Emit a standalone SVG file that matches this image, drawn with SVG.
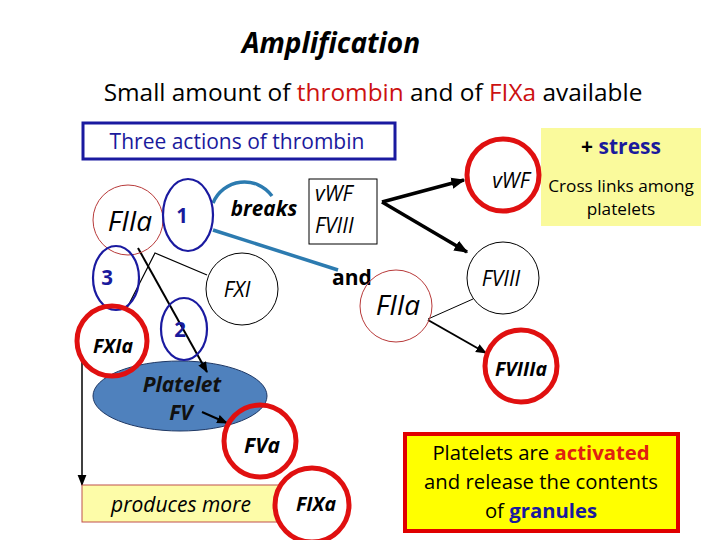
<svg xmlns="http://www.w3.org/2000/svg" width="720" height="540" viewBox="0 0 720 540">
<defs>
<marker id="ahb" viewBox="0 0 10 10" refX="9" refY="5" markerWidth="14" markerHeight="14" orient="auto" markerUnits="userSpaceOnUse">
<path d="M0,1 L10,5 L0,9 z" fill="#000"/>
</marker>
<marker id="ahm" viewBox="0 0 10 10" refX="9" refY="5" markerWidth="11" markerHeight="11" orient="auto" markerUnits="userSpaceOnUse">
<path d="M0,1 L10,5 L0,9 z" fill="#000"/>
</marker>
<style>
text{font-family:"Open Sans","Noto Sans","Liberation Sans",sans-serif;fill:#000}
.it{font-style:italic}
.b{font-weight:bold}
.blue{fill:#1a1a9c}
.red{fill:#cc1111}
.thinred{fill:none;stroke:#b83a3a;stroke-width:1}
.thickred{fill:#fff;stroke:#e01010;stroke-width:5}
.thin{fill:#fff;stroke:#000;stroke-width:1}
.ell{fill:none;stroke:#1a1aa0;stroke-width:2.2}
.teal{fill:none;stroke:#2c7bb0;stroke-width:3.5}
.c{text-anchor:middle}
</style>
</defs>
<rect width="720" height="540" fill="#fff"/>

<g id="title">
<text x="331" y="53" class="b it c" font-size="28">Amplification</text>
<text x="373" y="101" class="c" font-size="24.4">Small amount of <tspan class="red">thrombin</tspan> and of <tspan class="red">FIXa</tspan> available</text>
</g>

<g id="three-actions">
<rect x="83" y="123" width="312" height="36" fill="#fff" stroke="#1a1aa0" stroke-width="3"/>
<text x="237" y="149" class="c blue" font-size="21">Three actions of thrombin</text>
</g>

<g id="platelet">
<ellipse cx="180" cy="396" rx="87" ry="35" fill="#4f81bd" stroke="#1f3864" stroke-width="1"/>
<text x="182" y="392" class="b it c" font-size="21" style="fill:#111">Platelet</text>
<text x="181" y="420" class="b it c" font-size="21" style="fill:#111">FV</text>
</g>

<g id="connectors">
<path class="teal" d="M213,203 A34,34 0 0 1 272,196"/>
<line class="teal" x1="213" y1="230" x2="338" y2="270"/>
<polyline points="207,275 155,253 127,308" fill="none" stroke="#000" stroke-width="1.2"/>
<line x1="138" y1="248" x2="207" y2="372" stroke="#000" stroke-width="2" marker-end="url(#ahm)"/>
<line x1="82" y1="357" x2="82" y2="485" stroke="#000" stroke-width="1.5" marker-end="url(#ahm)"/>
<line x1="202" y1="412" x2="227" y2="423" stroke="#000" stroke-width="2" marker-end="url(#ahm)"/>
<line x1="382" y1="202" x2="464" y2="180" stroke="#000" stroke-width="3.5" marker-end="url(#ahb)"/>
<line x1="382" y1="202" x2="467" y2="252" stroke="#000" stroke-width="3.5" marker-end="url(#ahb)"/>
<line x1="428" y1="319" x2="473" y2="299" stroke="#000" stroke-width="1"/>
<line x1="428" y1="320" x2="486" y2="353" stroke="#000" stroke-width="2" marker-end="url(#ahm)"/>
</g>

<g id="fiia-left">
<circle cx="128" cy="220" r="35" class="thinred"/>
<text x="130" y="231" class="it c" font-size="28">FIIa</text>
</g>

<g id="action1">
<ellipse cx="188" cy="215" rx="25" ry="36" class="ell"/>
<text x="182" y="223" class="b blue c" font-size="20.5">1</text>
</g>

<g id="breaks">
<text x="264" y="216" class="b it c" font-size="20.7">breaks</text>
</g>

<g id="vwf-fviii-box">
<rect x="309" y="179" width="68" height="65" fill="#fff" stroke="#000" stroke-width="1"/>
<text x="315" y="201" class="it" font-size="21">vWF</text>
<text x="315" y="233" class="it" font-size="21">FVIII</text>
</g>

<g id="and">
<text x="352" y="285" class="b c" font-size="21">and</text>
</g>

<g id="action3">
<ellipse cx="116" cy="278" rx="23" ry="32" class="ell"/>
<text x="107" y="285" class="b blue c" font-size="20.5">3</text>
</g>

<g id="fxi">
<circle cx="242" cy="289" r="36" fill="none" stroke="#000" stroke-width="1"/>
<text x="237" y="297" class="it c" font-size="21">FXI</text>
</g>

<g id="action2">
<ellipse cx="184" cy="329" rx="23" ry="31" class="ell"/>
<text x="180" y="337" class="b blue c" font-size="20.5">2</text>
</g>

<g id="fxia">
<circle cx="112" cy="341" r="35" fill="none" stroke="#e01010" stroke-width="5"/>
<text x="113" y="353" class="b it c" font-size="19.5">FXIa</text>
</g>

<g id="fva">
<circle cx="260" cy="441" r="36" fill="none" stroke="#e01010" stroke-width="5"/>
<text x="262" y="453" class="b it c" font-size="21">FVa</text>
</g>

<g id="produces-more">
<rect x="82" y="485" width="197" height="37" fill="#fdfca8" stroke="#c0504d" stroke-width="1"/>
<text x="181" y="512" class="it c" font-size="21">produces more</text>
</g>

<g id="fixa">
<circle cx="312" cy="505" r="37" class="thickred"/>
<text x="316" y="511" class="b it c" font-size="19.5">FIXa</text>
</g>

<g id="stress-box">
<rect x="541" y="128" width="160" height="98" fill="#fafa9c"/>
<text x="621" y="154" class="b c" font-size="21">+ <tspan class="blue">stress</tspan></text>
<text x="621" y="192" class="c" font-size="17.2">Cross links among</text>
<text x="621" y="215" class="c" font-size="17.2">platelets</text>
</g>

<g id="vwf">
<circle cx="503" cy="175" r="36" class="thickred"/>
<text x="511" y="188" class="it c" font-size="21">vWF</text>
</g>

<g id="fviii">
<circle cx="503" cy="278" r="36" class="thin"/>
<text x="501" y="286" class="it c" font-size="21">FVIII</text>
</g>

<g id="fiia-right">
<circle cx="396" cy="306" r="36" class="thinred"/>
<text x="398" y="315" class="it c" font-size="28">FIIa</text>
</g>

<g id="fviiia">
<circle cx="521" cy="366" r="36" class="thickred"/>
<text x="521" y="376" class="b it c" font-size="19.5">FVIIIa</text>
</g>

<g id="activated-box">
<rect x="405" y="434" width="273" height="97" fill="#ffff00" stroke="#e00000" stroke-width="4"/>
<text x="541" y="460" class="c" font-size="20.3">Platelets are <tspan class="b" style="fill:#e02010">activated</tspan></text>
<text x="541" y="489" class="c" font-size="20.3">and release the contents</text>
<text x="541" y="518" class="c" font-size="20.3">of <tspan class="b blue">granules</tspan></text>
</g>
</svg>
